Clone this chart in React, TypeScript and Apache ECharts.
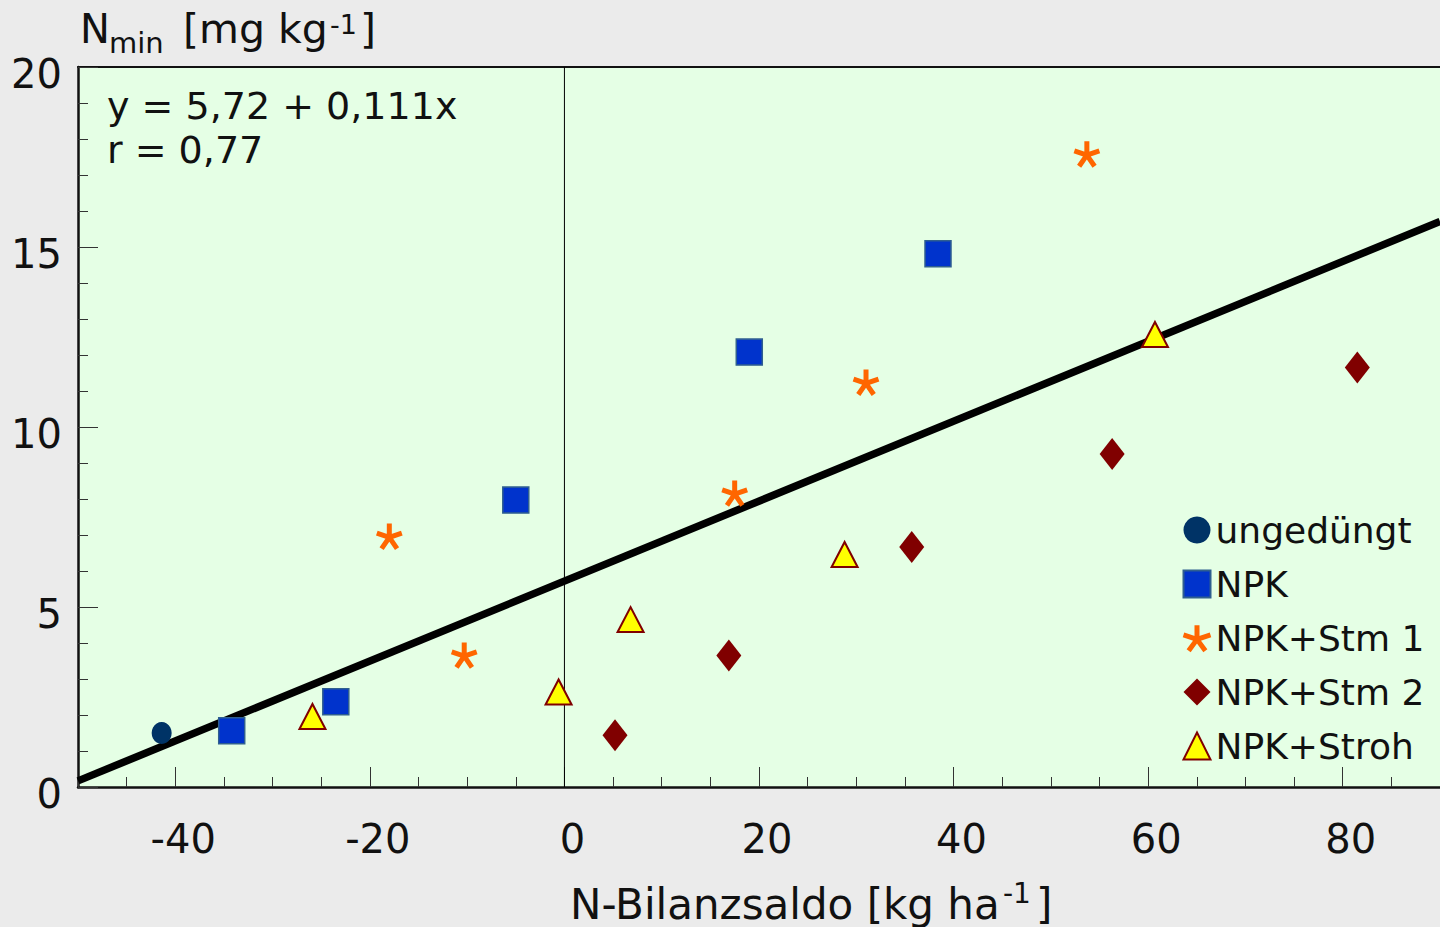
import React, { useEffect, useRef } from 'react';
import * as echarts from 'echarts';

const FONT = "'DejaVu Sans', sans-serif";

// Data (x: N-Bilanzsaldo, y: Nmin)
const ungeduengt = [[-41.4, 1.5]];
const npk = [[-34.2, 1.56], [-23.5, 2.37], [-5.0, 7.97], [19.0, 12.08], [38.4, 14.81]];
const npkStm1 = [[-18.0, 6.97], [-10.3, 3.67], [17.5, 8.17], [31.0, 11.25], [53.7, 17.59]];
const npkStm2 = [[5.2, 1.44], [16.9, 3.65], [35.7, 6.67], [56.3, 9.25], [81.5, 11.65]];
const npkStroh = [[-25.9, 1.96], [-0.6, 2.64], [6.8, 4.65], [28.8, 6.46], [60.7, 12.57]];
const trendLine = [[-50, 0.17], [90, 15.71]];
const zeroLine = [[0, 0], [0, 20]];
const xMajorTicks = [-40, -20, 0, 20, 40, 60, 80];
const seriesNames = ['ungedüngt', 'NPK', 'NPK+Stm 1', 'NPK+Stm 2', 'NPK+Stroh'];
const equationText = 'y = 5,72 + 0,111x\nr = 0,77';

const ASTERISK = 'path://M0,-10L0,0M9.51,-3.09L0,0M5.88,8.09L0,0M-5.88,8.09L0,0M-9.51,-3.09L0,0';

const txt = (x: number, y: number, text: string, fontSize: number) => ({
  type: 'text', x, y, silent: true,
  style: { text, fontSize, fontFamily: FONT, fill: '#111', align: 'left', verticalAlign: 'middle' },
});

export default function App() {
  const ref = useRef<HTMLDivElement>(null);
  useEffect(() => {
    document.body.style.margin = '0';
    const chart = echarts.init(ref.current!, null, { renderer: 'svg' });
    const option: any = {
      animation: false,
      backgroundColor: '#ebebeb',
      textStyle: { fontFamily: FONT },
      grid: {
        left: 78, top: 67, right: 0, bottom: 140,
        show: true, backgroundColor: '#e5ffe5', borderWidth: 0,
      },
      xAxis: [
        {
          type: 'value', min: -50, max: 90, interval: 5, position: 'bottom',
          axisLine: { show: true, onZero: false, lineStyle: { color: '#111', width: 2.5 } },
          axisTick: { show: true, inside: true, length: 10, lineStyle: { color: '#333', width: 1 } },
          axisLabel: { show: false },
          splitLine: { show: false },
        },
        {
          type: 'value', min: -50, max: 90, interval: 10, position: 'bottom',
          axisLine: { show: false, onZero: false },
          axisTick: { show: true, inside: true, length: 20, customValues: xMajorTicks, lineStyle: { color: '#333', width: 1 } },
          axisLabel: {
            show: true, customValues: xMajorTicks, fontSize: 40, color: '#111', fontFamily: FONT,
            margin: 32, padding: [0, 0, 0, 16],
          },
          splitLine: { show: false },
        },
        {
          type: 'value', min: -50, max: 90, position: 'top',
          axisLine: { show: true, onZero: false, lineStyle: { color: '#111', width: 2 } },
          axisTick: { show: false }, axisLabel: { show: false }, splitLine: { show: false },
        },
      ],
      yAxis: {
        type: 'value', min: 0, max: 20, interval: 5,
        axisLine: { show: true, onZero: false, lineStyle: { color: '#111', width: 2.5 } },
        axisTick: { show: true, inside: true, length: 20, lineStyle: { color: '#333', width: 1 } },
        minorTick: { show: true, splitNumber: 5, length: 10, lineStyle: { color: '#333', width: 1 } },
        axisLabel: {
          margin: 16,
          formatter: '{a|{value}}',
          rich: { a: { fontSize: 40, color: '#111', fontFamily: FONT, padding: [14, 0, 0, 0] } },
        },
        splitLine: { show: false },
      },
      legend: {
        orient: 'vertical', left: 1176, top: 507,
        itemWidth: 27, itemHeight: 27, itemGap: 18,
        textStyle: { fontSize: 36, lineHeight: 36, color: '#111', fontFamily: FONT },
        data: [
          { name: seriesNames[0] },
          { name: seriesNames[1] },
          { name: seriesNames[2], itemStyle: { borderWidth: 5, borderColor: '#ff6600' } },
          { name: seriesNames[3] },
          { name: seriesNames[4], itemStyle: { borderWidth: 2, borderColor: '#800000' } },
        ],
      },
      graphic: [
        txt(80, 29, 'N', 40),
        txt(109, 43, 'min', 29),
        txt(183, 29, '[mg kg', 41),
        txt(330, 24, '-1', 27),
        txt(360, 29, ']', 41),
        {
          type: 'text', left: 107, top: 84, silent: true,
          style: { text: equationText, fontSize: 38, lineHeight: 44, fill: '#111', fontFamily: FONT },
        },
        txt(570, 904, 'N-Bilanzsaldo [kg ha', 42),
        txt(1003, 893, '-1', 28),
        txt(1036, 904, ']', 42),
      ],
      series: [
        {
          type: 'line', data: trendLine, symbol: 'none', z: 1, silent: true,
          lineStyle: { color: '#000', width: 7.5 },
        },
        {
          type: 'line', data: zeroLine, symbol: 'none', z: 1, silent: true,
          lineStyle: { color: '#000', width: 1 },
        },
        {
          name: seriesNames[0], type: 'scatter', data: ungeduengt, z: 3,
          symbol: 'circle', symbolSize: [20, 22],
          itemStyle: { color: '#003366', opacity: 1 },
        },
        {
          name: seriesNames[1], type: 'scatter', data: npk, z: 3,
          symbol: 'rect', symbolSize: 26,
          itemStyle: { color: '#0033cc', borderColor: '#2f5f8f', borderWidth: 1.5, opacity: 1 },
        },
        {
          name: seriesNames[2], type: 'scatter', data: npkStm1, z: 3,
          symbol: ASTERISK, symbolSize: 25, symbolKeepAspect: false,
          itemStyle: { color: '#ff6600', borderColor: '#ff6600', borderWidth: 5, opacity: 1 },
        },
        {
          name: seriesNames[3], type: 'scatter', data: npkStm2, z: 3,
          symbol: 'diamond', symbolSize: [25, 32],
          itemStyle: { color: '#800000', opacity: 1 },
        },
        {
          name: seriesNames[4], type: 'scatter', data: npkStroh, z: 3,
          symbol: 'triangle', symbolSize: [26, 25],
          itemStyle: { color: '#ffff00', borderColor: '#800000', borderWidth: 2, opacity: 1 },
        },
      ],
    };
    chart.setOption(option);
    return () => chart.dispose();
  }, []);
  return <div ref={ref} style={{ width: 1440, height: 927 }} />;
}
